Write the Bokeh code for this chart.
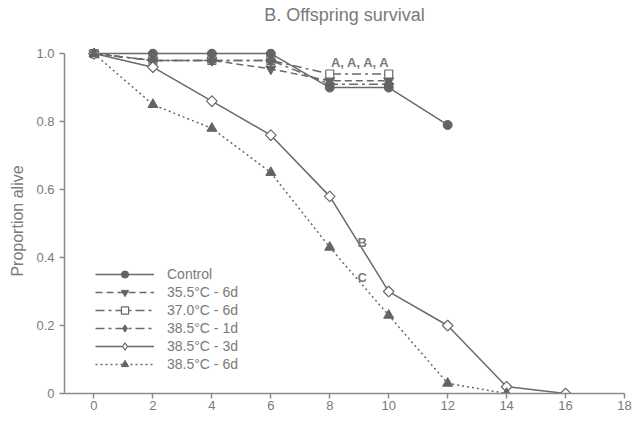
from bokeh.plotting import figure
from bokeh.models import Range1d, FixedTicker, Legend, LegendItem, Label, Title
from bokeh.embed import file_html
from bokeh.resources import INLINE
import math

# ---- data ----
days = [0, 2, 4, 6, 8, 10, 12, 14, 16]
control = [1.0, 1.0, 1.0, 1.0, 0.90, 0.90, 0.79]
t355_6d = [1.0, 0.98, 0.98, 0.955, 0.92, 0.92]
t370_6d = [1.0, 0.98, 0.98, 0.98, 0.94, 0.94]
t385_1d = [1.0, 0.98, 0.98, 0.98, 0.91, 0.91]
t385_3d = [1.0, 0.96, 0.86, 0.76, 0.58, 0.30, 0.20, 0.02, 0.0]
t385_6d = [1.0, 0.85, 0.78, 0.65, 0.43, 0.23, 0.03, 0.0]
series_labels = ["Control", "35.5°C - 6d", "37.0°C - 6d", "38.5°C - 1d", "38.5°C - 3d", "38.5°C - 6d"]
x_ticks = [0, 2, 4, 6, 8, 10, 12, 14, 16, 18]
y_ticks = [0, 0.2, 0.4, 0.6, 0.8, 1.0]
y_tick_labels = ["0", "0.2", "0.4", "0.6", "0.8", "1.0"]
group_letters = ["A, A, A, A", "B", "C"]
title_text = "B. Offspring survival"

FONT = "Liberation Sans"
LINE = "#6a6a6a"
FILL = "#646464"
TEXT = "#7a7a7a"
AXIS = "#8a8a8a"

p = figure(width=635, height=415, output_backend="svg", toolbar_location=None,
           x_range=Range1d(-1, 18), y_range=Range1d(0, 1.015),
           min_border_left=64, min_border_right=11, min_border_top=48, min_border_bottom=22)
p.margin = (0, -8, -8, 0)
p.title.text = ""

# spacer between frame and title, then the title itself (outermost)
p.add_layout(Title(text=" ", text_font_size="1px", standoff=19), "above")
p.add_layout(Title(text=title_text, align="center", vertical_align="top", standoff=0,
                   text_font=FONT, text_font_size="18px", text_font_style="normal",
                   text_color=TEXT), "above")

p.grid.visible = False
p.outline_line_color = None

for ax in (p.xaxis[0], p.yaxis[0]):
    ax.axis_line_color = AXIS
    ax.axis_line_width = 1.5
    ax.major_tick_line_color = AXIS
    ax.major_tick_line_width = 1.5
    ax.major_tick_out = 5
    ax.major_tick_in = 0
    ax.minor_tick_line_color = None
    ax.major_label_text_font = FONT
    ax.major_label_text_font_size = "13px"
    ax.major_label_text_color = TEXT

p.xaxis.ticker = FixedTicker(ticks=x_ticks)
p.xaxis.major_label_standoff = 2
p.xaxis.axis_label = None
p.yaxis.ticker = FixedTicker(ticks=y_ticks)
p.yaxis.major_label_overrides = {t: l for t, l in zip(y_ticks, y_tick_labels)}
p.yaxis.major_label_standoff = 5
p.yaxis.bounds = (0, 1)
p.yaxis.axis_label = "Proportion alive"
p.yaxis.axis_label_text_font = FONT
p.yaxis.axis_label_text_font_size = "16px"
p.yaxis.axis_label_text_font_style = "normal"
p.yaxis.axis_label_text_color = TEXT
p.yaxis.axis_label_standoff = 7

# (values, dash, plot marker, legend marker drawn underneath)
specs = [
    (control, "solid", dict(marker="circle", size=9, fill_color=FILL, line_color=FILL), None),
    (t355_6d, "7 4", dict(marker="inverted_triangle", size=10, fill_color=FILL, line_color=FILL), None),
    (t370_6d, "9 4 3 4", dict(marker="square", size=8, fill_color="white", line_color=LINE, line_width=1.2), None),
    (t385_1d, "9 4 3 4", dict(marker="square", size=7.5, angle=math.pi / 4, fill_color=FILL, line_color=FILL),
     dict(marker="diamond", size=10, fill_color=FILL, line_color=FILL)),
    (t385_3d, "solid", dict(marker="square", size=7.5, angle=math.pi / 4, fill_color="white", line_color=LINE, line_width=1.2),
     dict(marker="diamond", size=10, fill_color="white", line_color=LINE, line_width=1.2)),
    (t385_6d, "2 3", dict(marker="triangle", size=10, fill_color=FILL, line_color=FILL), None),
]

line_rs = []
for vals, dash, mk, lk in specs:
    xs = days[:len(vals)]
    line_rs.append(p.line(xs, vals, line_color=LINE, line_width=1.5, line_dash=dash))

items = []
for (vals, dash, mk, lk), lr, lab in zip(specs, line_rs, series_labels):
    xs = days[:len(vals)]
    key = None
    if lk is not None:
        key = p.scatter(xs, vals, **lk)
    sr = p.scatter(xs, vals, **mk)
    items.append(LegendItem(label=lab, renderers=[lr, key if key is not None else sr]))

legend = Legend(items=items, location=(31, 20), orientation="vertical",
                glyph_width=59, glyph_height=18, label_height=18, spacing=0,
                label_standoff=13, padding=0, margin=0,
                border_line_color=None, background_fill_alpha=0,
                label_text_font=FONT, label_text_font_size="14px", label_text_color=TEXT)
p.add_layout(legend, "center")

ann_x = [8.04, 9.1, 9.1]
ann_y = [0.975, 0.443, 0.34]
for txt, xv, yv, al in zip(group_letters, ann_x, ann_y, ["left", "center", "center"]):
    p.add_layout(Label(x=xv, y=yv, text=txt, text_font=FONT, text_font_size="13px",
                       text_font_style="bold", text_color=TEXT, text_align=al,
                       text_baseline="middle"))

open("out.html", "w").write(file_html(p, INLINE))
